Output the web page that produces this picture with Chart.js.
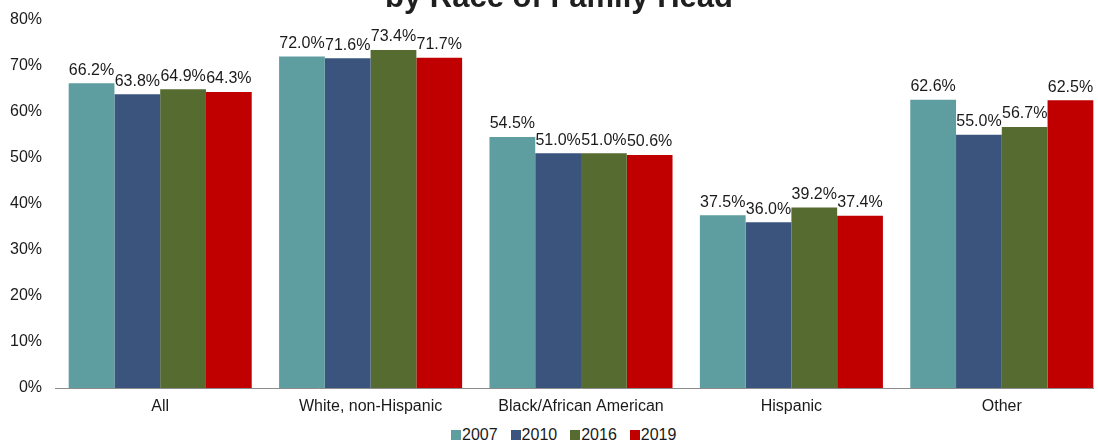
<!DOCTYPE html>
<html>
<head>
<meta charset="utf-8">
<script src="https://cdn.jsdelivr.net/npm/chart.js@4"></script>
<style>
  html, body { margin: 0; padding: 0; background: #fff; overflow: hidden; }
  #wrap { position: relative; width: 1094px; height: 445px; overflow: hidden; }
  #box { position: absolute; left: 0; top: -3px; width: 1110px; height: 423px; }
  #legend {
    position: absolute; left: 451px; top: 426px; display: flex;
    font: 16px "Liberation Sans", Arial, sans-serif; color: #1a1a1a; line-height: 18px;
  }
  #legend span.item { display: flex; align-items: center; margin-right: 13px; }
  #legend i { display: inline-block; width: 10px; height: 10px; margin-right: 1px; }
</style>
</head>
<body>
<div id="wrap">
  <div id="box"><canvas id="chart"></canvas></div>
  <div id="legend"></div>
</div>
<script>
const categories = ["All", "White, non-Hispanic", "Black/African American", "Hispanic", "Other"];
const years = ["2007", "2010", "2016", "2019"];
const colors = ["#5F9EA0", "#3A547E", "#556B2F", "#C00000"];

const rate2007 = [66.2, 72.0, 54.5, 37.5, 62.6];
const rate2010 = [63.8, 71.6, 51.0, 36.0, 55.0];
const rate2016 = [64.9, 73.4, 51.0, 39.2, 56.7];
const rate2019 = [64.3, 71.7, 50.6, 37.4, 62.5];

const yTicks = [0, 10, 20, 30, 40, 50, 60, 70, 80];
const titleText = "by Race of Family Head";

const FONT = '"Liberation Sans", Arial, sans-serif';
const series = [rate2007, rate2010, rate2016, rate2019];

// title sits partly above the canvas edge
const titlePlugin = {
  id: "topTitle",
  afterDraw(chart) {
    const ctx = chart.ctx;
    ctx.save();
    ctx.font = "bold 31px " + FONT;
    ctx.fillStyle = "#1f1f1f";
    ctx.textAlign = "center";
    ctx.textBaseline = "alphabetic";
    ctx.fillText(titleText, 559, 10);
    ctx.restore();
  }
};

// value labels above each bar
const valueLabels = {
  id: "valueLabels",
  afterDatasetsDraw(chart) {
    const ctx = chart.ctx;
    ctx.save();
    ctx.font = "16px " + FONT;
    ctx.fillStyle = "#1a1a1a";
    ctx.textAlign = "center";
    ctx.textBaseline = "middle";
    chart.data.datasets.forEach((ds, i) => {
      chart.getDatasetMeta(i).data.forEach((bar, j) => {
        ctx.fillText(ds.data[j].toFixed(1) + "%", bar.x, bar.y - 13);
      });
    });
    ctx.restore();
  }
};

new Chart(document.getElementById("chart"), {
  type: "bar",
  data: {
    labels: categories,
    datasets: years.map((y, i) => ({
      label: y,
      data: series[i],
      backgroundColor: colors[i],
      borderWidth: 0,
      barPercentage: 1.0,
      categoryPercentage: 0.87
    }))
  },
  options: {
    responsive: true,
    maintainAspectRatio: false,
    animation: false,
    layout: { padding: { top: 15, left: 0, right: 3, bottom: 0 } },
    scales: {
      x: {
        grid: { display: false, drawTicks: false },
        border: { display: true, color: "#8c8c8c", width: 1 },
        ticks: { color: "#1a1a1a", font: { family: FONT, size: 16 }, padding: 9, maxRotation: 0 },
        afterFit(scale) { scale.height = 32; }
      },
      y: {
        min: 0,
        max: 80,
        afterBuildTicks(scale) { scale.ticks = yTicks.map(v => ({ value: v })); },
        grid: { display: false, drawTicks: false },
        border: { display: false },
        ticks: {
          color: "#1a1a1a",
          font: { family: FONT, size: 16 },
          padding: 13,
          callback: v => v + "%"
        },
        afterFit(scale) { scale.width = 55; }
      }
    },
    plugins: {
      legend: { display: false },
      tooltip: { enabled: false }
    }
  },
  plugins: [titlePlugin, valueLabels]
});

const legend = document.getElementById("legend");
years.forEach((y, i) => {
  const item = document.createElement("span");
  item.className = "item";
  item.innerHTML = `<i style="background:${colors[i]}"></i>${y}`;
  legend.appendChild(item);
});
</script>
</body>
</html>
